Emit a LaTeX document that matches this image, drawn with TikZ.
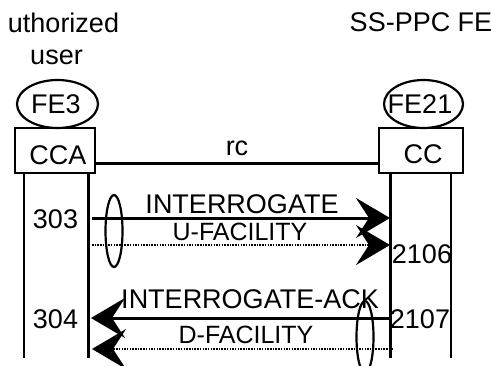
\documentclass[tikz,border=0pt]{standalone}
\usepackage{fontspec}
\setmainfont{Liberation Sans}
\usetikzlibrary{arrows.meta,shapes.geometric}
\begin{document}
\begin{tikzpicture}[x=1pt,y=-1pt,
  lbl/.style={inner sep=0pt,anchor=base,font=\fontsize{27}{30}\selectfont},
  small/.style={inner sep=0pt,anchor=base,font=\fontsize{25}{28}\selectfont},
  feell/.style={ellipse,draw,line width=2.2pt,inner sep=0pt,minimum width=#1,minimum height=48pt},
  febox/.style={rectangle,draw,line width=2.2pt,inner sep=0pt,minimum height=45pt,minimum width=#1},
  thinlife/.style={line width=2.2pt},
  thicklife/.style={line width=3pt},
  msg/.style={line width=3pt,-{Stealth[length=34pt,width=40pt,inset=13pt]}},
  dotmsg/.style={line width=2.5pt,dash pattern=on 1.5pt off 1.2pt,-{Stealth[length=34pt,width=40pt,inset=13pt]}},
  grp/.style={ellipse,draw,line width=2.2pt,inner sep=0pt,minimum width=17pt,minimum height=72pt}]
\useasboundingbox (0,0) rectangle (492,365);
\clip (0,0) rectangle (492,365);
% headings
\node[lbl] (h1) at (63.5,32) {uthorized};
\node[lbl] (h2) at (56.5,64) {user};
\node[lbl] (h3) at (421,31) {SS-PPC FE};
% FE ellipses and boxes
\node[feell=81pt] (fe3) at (57.5,104) {};
\node[lbl] (fe3t) at (56,113) {FE3};
\node[feell=79pt] (fe21) at (423.5,104) {};
\node[lbl] (fe21t) at (420,113) {FE21};
\node[febox=80pt] (cca) at (55,150.5) {};
\node[lbl] (ccat) at (58,164) {CCA};
\node[febox=84pt] (cc) at (421,150.5) {};
\node[lbl] (cct) at (423,163) {CC};
% rc line
\coordinate (rcy) at (0,163);
\draw[line width=3pt] (cca.east |- rcy) -- (cc.west |- rcy);
\node[lbl] (rc) at (237,155) {rc};
% lifelines
\coordinate (l1b) at (24,358);
\coordinate (l2b) at (88,358);
\coordinate (r1b) at (390,358);
\coordinate (r2b) at (451,358);
\draw[thinlife] (l1b |- cca.south) -- (l1b);
\draw[thicklife] (l2b |- cca.south) -- (l2b);
\draw[thicklife] (r1b |- cc.south) -- (r1b);
\draw[thinlife] (r2b |- cc.south) -- (r2b);
% messages
\coordinate (m1s) at (92,218);
\coordinate (m1e) at (390,218);
\coordinate (m2s) at (92,245);
\coordinate (m2e) at (390,245);
\coordinate (m3s) at (390,318);
\coordinate (m3e) at (91,318);
\coordinate (m4s) at (393,349);
\coordinate (m4e) at (92,349);
\draw[msg] (m1s) -- (m1e);
\draw[dotmsg] (m2s) -- (m2e);
\draw[msg] (m3s) -- (m3e);
\draw[dotmsg] (m4s) -- (m4e);
\node[lbl] (t1) at (242,213) {INTERROGATE};
\node[small] (t2) at (240,240) {U-FACILITY};
\node[lbl] (t3) at (250,308) {INTERROGATE-ACK};
\node[small] (t4) at (246,343) {D-FACILITY};
% numbers
\node[lbl] (n303) at (55.5,228) {303};
\node[lbl] (n304) at (55.5,328) {304};
\node[lbl] (n2106) at (422,263) {2106};
\node[lbl] (n2107) at (420,328) {2107};
% grouping ellipses
\node[grp] (g1) at (114,231) {};
\node[grp] (g2) at (365,337) {};
\end{tikzpicture}
\end{document}
